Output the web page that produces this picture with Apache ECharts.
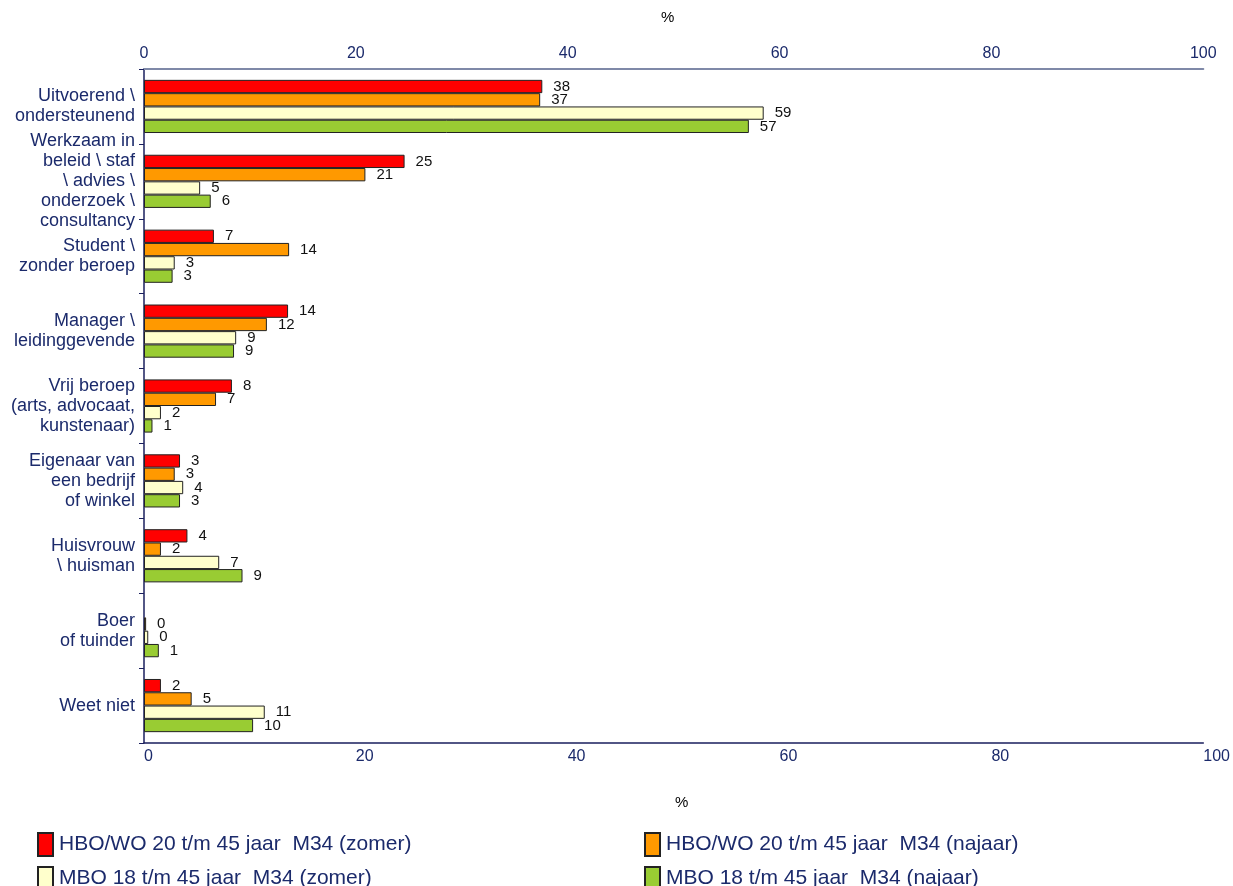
<!DOCTYPE html>
<html>
<head>
<meta charset="utf-8">
<script src="https://cdn.jsdelivr.net/npm/echarts@6/dist/echarts.min.js"></script>
<style>
html,body{margin:0;padding:0;background:#fff;}
#chart{width:1233px;height:886px;}
</style>
</head>
<body>
<div id="chart"></div>
<script>
var categories = [
  'Uitvoerend \\\nondersteunend',
  'Werkzaam in\nbeleid \\ staf\n\\ advies \\\nonderzoek \\\nconsultancy',
  'Student \\\nzonder beroep',
  'Manager \\\nleidinggevende',
  'Vrij beroep\n(arts, advocaat,\nkunstenaar)',
  'Eigenaar van\neen bedrijf\nof winkel',
  'Huisvrouw\n\\ huisman',
  'Boer\nof tuinder',
  'Weet niet'
];
var seriesNames = [
  'HBO/WO 20 t/m 45 jaar  M34 (zomer)',
  'HBO/WO 20 t/m 45 jaar  M34 (najaar)',
  'MBO 18 t/m 45 jaar  M34 (zomer)',
  'MBO 18 t/m 45 jaar  M34 (najaar)'
];
var hboZomer  = [37.6, 24.6, 6.6, 13.6, 8.3, 3.4, 4.1, null, 1.6];
var hboNajaar = [37.4, 20.9, 13.7, 11.6, 6.8, 2.9, 1.6, 0.2, 4.5];
var mboZomer  = [58.5, 5.3, 2.9, 8.7, 1.6, 3.7, 7.1, 0.4, 11.4];
var mboNajaar = [57.1, 6.3, 2.7, 8.5, 0.8, 3.4, 9.3, 1.4, 10.3];
var xTicks = [0, 20, 40, 60, 80, 100];
var colors = ['#ff0000', '#ff9900', '#ffffcc', '#99cc33'];

var navy = '#1b2a6b';
var font = 'Liberation Sans, Arial, sans-serif';
var dataSets = [hboZomer, hboNajaar, mboZomer, mboNajaar];

var series = dataSets.map(function (d, i) {
  return {
    name: seriesNames[i],
    type: 'bar',
    data: d,
    xAxisIndex: 0,
    yAxisIndex: 0,
    barGap: '0%',
    barCategoryGap: '29%',
    itemStyle: { color: colors[i], borderColor: '#222', borderWidth: 1 },
    label: {
      show: true,
      position: 'right',
      distance: 11,
      color: '#111',
      fontFamily: font,
      fontSize: 15,
      formatter: function (p) { return p.value == null ? '' : Math.round(p.value); }
    }
  };
});

var chart = echarts.init(document.getElementById('chart'), null, { renderer: 'canvas' });
chart.setOption({
  animation: false,
  backgroundColor: '#fff',
  grid: { left: 144, right: 29, top: 69, bottom: 143, containLabel: false },
  xAxis: [
    {
      type: 'value', position: 'top', min: 0, max: 100, interval: 20,
      name: '%', nameLocation: 'middle', nameGap: 44,
      nameTextStyle: { color: '#000', fontFamily: font, fontSize: 15, padding: [0, 12, 0, 0] },
      axisLine: { show: true, lineStyle: { color: '#7f89a8', width: 2 } },
      axisTick: { show: false },
      splitLine: { show: false },
      axisLabel: { color: navy, fontFamily: font, fontSize: 16, margin: 7,
        formatter: function (v) { return xTicks.indexOf(v) >= 0 ? String(v) : ''; } }
    },
    {
      type: 'value', position: 'bottom', min: 0, max: 100, interval: 20,
      name: '%', nameLocation: 'middle', nameGap: 52,
      nameTextStyle: { color: '#000', fontFamily: font, fontSize: 15, padding: [0, 0, 0, 16] },
      axisLine: { show: true, onZero: false, lineStyle: { color: '#1a1f5e', width: 1.5 } },
      axisTick: { show: false },
      splitLine: { show: false },
      axisLabel: { color: navy, fontFamily: font, fontSize: 16, margin: 6, align: 'left',
        formatter: function (v) { return xTicks.indexOf(v) >= 0 ? String(v) : ''; } }
    }
  ],
  yAxis: {
    type: 'category', data: categories, inverse: true,
    axisLine: { show: true, onZero: false, lineStyle: { color: '#1a1f5e', width: 1.5 } },
    axisTick: { show: true, length: 5, lineStyle: { color: '#1a1f5e' } },
    axisLabel: { color: navy, fontFamily: font, fontSize: 18, lineHeight: 20, margin: 9, align: 'right' }
  },
  legend: [
    {
      data: [seriesNames[0], seriesNames[2]],
      orient: 'vertical', left: 32, top: 827, height: 120, itemGap: 9,
      itemWidth: 15, itemHeight: 23, icon: 'rect',
      textStyle: { color: navy, fontFamily: font, fontSize: 21, padding: [0, 0, 0, 1] }
    },
    {
      data: [seriesNames[1], seriesNames[3]],
      orient: 'vertical', left: 639, top: 827, height: 120, itemGap: 9,
      itemWidth: 15, itemHeight: 23, icon: 'rect',
      textStyle: { color: navy, fontFamily: font, fontSize: 21, padding: [0, 0, 0, 1] }
    }
  ],
  series: series
});
</script>
</body>
</html>
